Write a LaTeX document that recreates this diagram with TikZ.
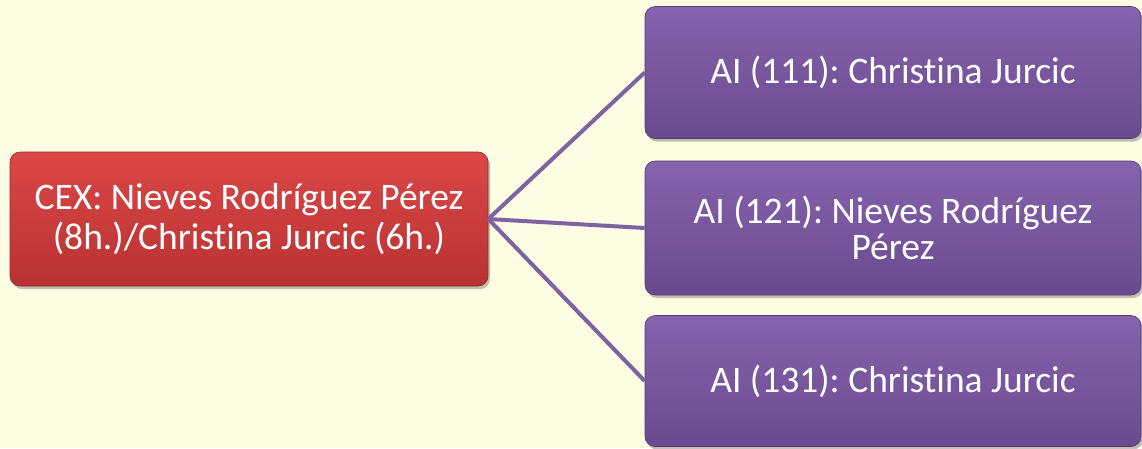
\documentclass[tikz,border=0pt]{standalone}
\usepackage{fontspec}
\setmainfont[Ligatures=NoCommon]{Carlito}
\usetikzlibrary{shadows}
\frenchspacing
\definecolor{bgyellow}{HTML}{FDFDE3}
\definecolor{redtop}{HTML}{DC4747}
\definecolor{redbot}{HTML}{B83232}
\definecolor{purtop}{HTML}{8563AD}
\definecolor{purbot}{HTML}{6A4A8F}
\definecolor{linkcol}{HTML}{7E62A1}
\tikzset{
  box/.style={rounded corners=10pt, inner sep=4pt, align=center,
    text=white,
    drop shadow={shadow xshift=2pt, shadow yshift=-3pt, opacity=0.35, fill=black!70}},
  redbox/.style={box, font=\fontsize{37.5}{40}\selectfont, top color=redtop, bottom color=redbot, draw=redbot!80!black, line width=0.6pt},
  purbox/.style={box, font=\fontsize{37.5}{36}\selectfont, top color=purtop, bottom color=purbot, draw=purbot!80!black, line width=0.6pt},
  link/.style={draw=linkcol, line width=4pt}
}
\begin{document}
\begin{tikzpicture}[x=1pt,y=-1pt]
\fill[bgyellow] (0,0) rectangle (1142,448);
\useasboundingbox (0,0) rectangle (1142,448);
\node[redbox, minimum width=478pt, minimum height=134pt] (cex) at (249,219) {CEX: Nieves Rodríguez Pérez\\(8h.)/Christina Jurcic (6h.)};
\node[purbox, minimum width=496pt, minimum height=132pt] (a111) at (893,72.5) {AI (111): Christina Jurcic};
\node[purbox, minimum width=496pt, minimum height=134pt] (a121) at (893,228) {AI (121): Nieves Rodríguez\\Pérez};
\node[purbox, minimum width=496pt, minimum height=131pt] (a131) at (893,381) {AI (131): Christina Jurcic};
\draw[link] (cex.east) -- (a111.west);
\draw[link] (cex.east) -- (a121.west);
\draw[link] (cex.east) -- (a131.west);
\end{tikzpicture}
\end{document}
